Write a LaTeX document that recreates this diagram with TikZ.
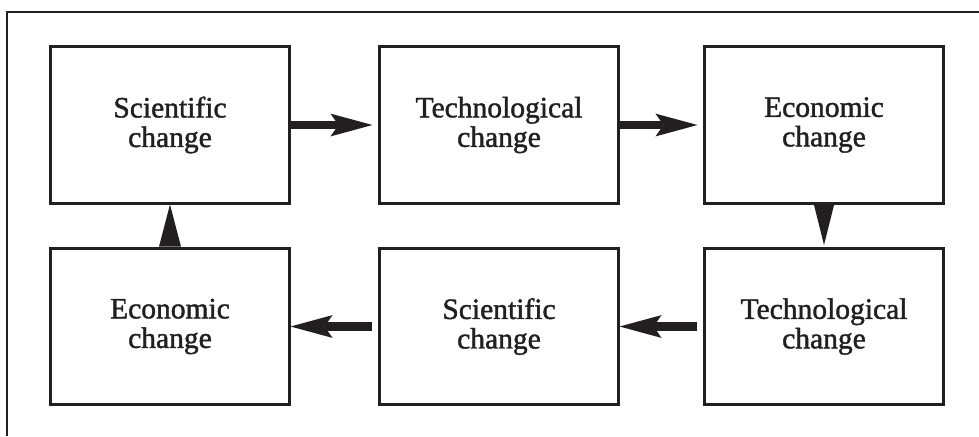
\documentclass[tikz,border=0pt]{standalone}
\usepackage{fontspec}
\setmainfont{Liberation Serif}
\newfontfamily\boxfont{Liberation Serif}[RawFeature={embolden=1.4}]
\usetikzlibrary{arrows.meta}
\definecolor{ink}{HTML}{231F20}

\begin{document}
\begin{tikzpicture}[x=0.025cm,y=-0.025cm,
      box/.style={draw=ink,line width=0.075cm,minimum width=5.95cm,
                  minimum height=3.9cm,align=center,text=ink,
                  font=\boxfont\fontsize{21}{21}\selectfont},
      push/.style={ink,line width=0.21cm,
                   -{Stealth[length=1.05cm,width=0.57cm,inset=0.2cm,line width=0pt]}},
      lift/.style={ink,line width=0.02cm}]
    \useasboundingbox (0,0) rectangle (979,436);

    % open frame, top and left side only
    \draw[ink,line width=0.065cm] (979,12) -- (7,12) -- (7,436);

    \node[box] (sci1)  at (170,125)   {Scientific\\change};
    \node[box] (tech1) at (499,125)   {Technological\\change};
    \node[box] (econ1) at (824,125)   {Economic\\change};
    \node[box] (econ2) at (170,326.5) {Economic\\change};
    \node[box] (sci2)  at (499,326.5) {Scientific\\change};
    \node[box] (tech2) at (824,326.5) {Technological\\change};

    \foreach \a/\b in {sci1/tech1,tech1/econ1}
      \draw[push,shorten >=0.15cm] (\a) -- (\b);
    \foreach \a/\b in {tech2/sci2,sci2/econ2}
      \draw[push,shorten <=0.15cm] (\a) -- (\b);

    \draw[lift,-{Triangle[length=1.0cm,width=0.5cm,line width=0pt]},shorten >=0.05cm] (econ1) -- (tech2);
    \draw[lift,-{Triangle[length=1.05cm,width=0.55cm,line width=0pt]}] (econ2) -- (sci1);
  \end{tikzpicture}
\end{document}
